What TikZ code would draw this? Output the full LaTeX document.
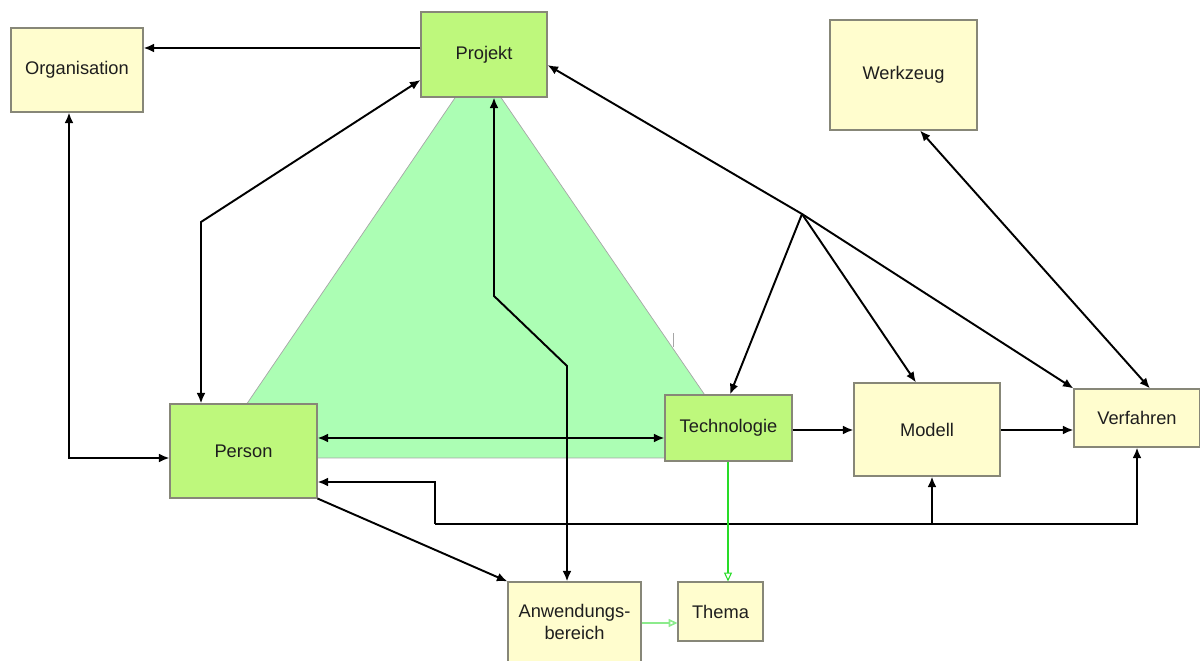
\documentclass[tikz,border=0pt]{standalone}
\usepackage{fontspec}
\setmainfont{Liberation Sans}
\usetikzlibrary{arrows.meta}
\definecolor{lime}{RGB}{190,248,124}
\definecolor{pale}{RGB}{255,253,206}
\definecolor{tri}{RGB}{172,254,180}
\definecolor{edge}{RGB}{135,135,120}
\definecolor{txt}{RGB}{30,30,30}
\definecolor{gline}{RGB}{40,220,40}
\definecolor{gline2}{RGB}{140,235,140}
\begin{document}
\begin{tikzpicture}[x=0.02cm,y=-0.02cm,
  box/.style={draw=edge,line width=0.6pt,inner sep=0pt,text=txt,
    font=\fontsize{10.4}{12}\selectfont,align=center},
  gbox/.style={box,fill=lime},
  ybox/.style={box,fill=pale},
  arr/.style={line width=1.1pt,-{Latex[length=6pt,width=5pt]}},
  dbl/.style={line width=1.1pt,{Latex[length=6pt,width=5pt]}-{Latex[length=6pt,width=5pt]}},
  garr/.style={gline,line width=0.6pt,-{Triangle[open,length=5pt,width=4.5pt]}},
  garr2/.style={gline2,line width=0.9pt,-{Triangle[open,length=5pt,width=4.5pt]}}]
\useasboundingbox (0,0) rectangle (1200,661);
% green triangle
\filldraw[fill=tri,draw=gray!70,line width=0.4pt] (478,64) -- (210,458) -- (748,458) -- cycle;
\draw[gray!70,line width=0.4pt] (673,333) -- (673,347);
% nodes
\node[ybox,minimum width=2.64cm,minimum height=1.68cm] (org) at (77,70) {Organisation};
\node[gbox,minimum width=2.52cm,minimum height=1.70cm] (proj) at (484,54.5) {Projekt};
\node[ybox,minimum width=2.94cm,minimum height=2.20cm] (werk) at (903.5,75) {Werkzeug};
\node[gbox,minimum width=2.94cm,minimum height=1.88cm] (person) at (243.5,451) {Person};
\node[gbox,minimum width=2.54cm,minimum height=1.32cm] (tech) at (728.5,428) {Technologie};
\node[ybox,minimum width=2.92cm,minimum height=1.86cm] (modell) at (927,429.5) {Modell};
\node[ybox,minimum width=2.52cm,minimum height=1.16cm] (verf) at (1137,418) {Verfahren};
\node[ybox,minimum width=2.66cm,minimum height=1.60cm] (anw) at (574.5,622) {Anwendungs-\\bereich};
\node[ybox,minimum width=1.70cm,minimum height=1.18cm] (thema) at (720.5,611.5) {Thema};
% helper coordinates
\coordinate (c1) at (69,458);
\coordinate (c2) at (201,222);
\coordinate (c3) at (494,296);
\coordinate (c4) at (567,366);
\coordinate (j) at (802,214);
\coordinate (b1) at (435,524);
\coordinate (b2) at (435,482);
\coordinate (b3) at (1137,524);
\coordinate (b4) at (932,524);
% connectors
\draw[arr] (proj.west |- 0,48) -- (org.east |- 0,48);
\draw[dbl] (org.south -| c1) -- (c1) -- (person.west |- c1);
\draw[dbl] (proj.west |- 0,80) -- (c2) -- (person.north -| c2);
\draw[dbl] (proj.south -| c3) -- (c3) -- (c4) -- (anw.north -| c4);
\draw[dbl] (person.east |- 0,438) -- (tech.west |- 0,438);
\draw[arr] (tech.east |- 0,430) -- (modell.west |- 0,430);
\draw[arr] (modell.east |- 0,430) -- (verf.west |- 0,430);
\draw[dbl] (proj.east |- 0,65) -- (j) -- (verf.north west);
\draw[arr] (j) -- (tech.north -| 730,0);
\draw[arr] (j) -- (modell.north -| 916,0);
\draw[dbl] (werk.south -| 920,0) -- (verf.north -| 1150,0);
\draw[arr] (b1) -- (b2) -- (person.east |- b2);
\draw[arr] (b1) -- (b3) -- (verf.south -| b3);
\draw[arr] (b4) -- (modell.south -| b4);
\draw[arr] (person.south east) -- (anw.north west);
\draw[garr] (tech.south -| 728,0) -- (thema.north -| 728,0);
\draw[garr2] (anw.east |- 0,623) -- (thema.west |- 0,623);
\end{tikzpicture}
\end{document}
